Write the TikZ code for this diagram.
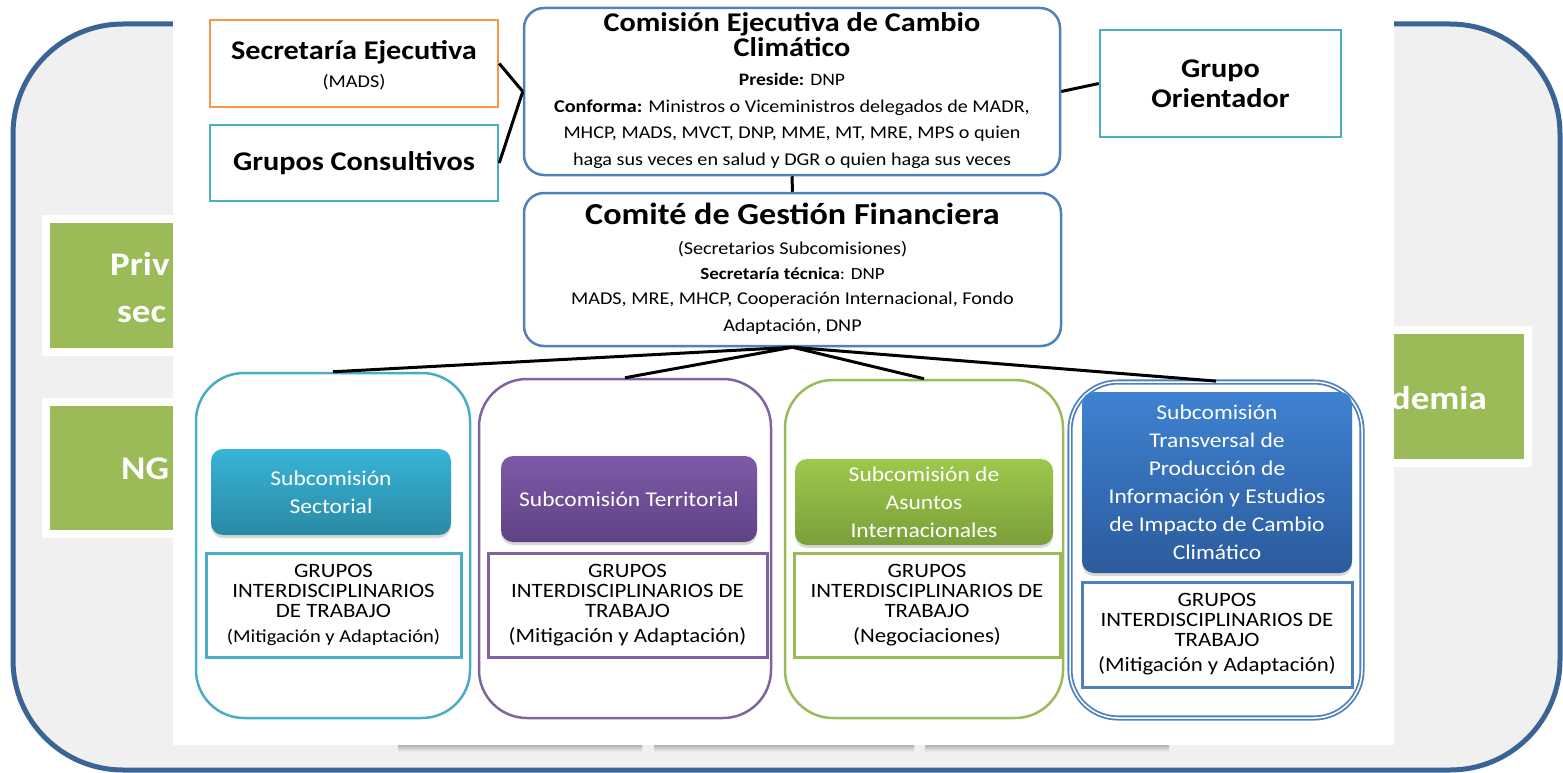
\documentclass[tikz,border=0pt]{standalone}
\usepackage{fontspec}
\setmainfont[FakeStretch=1.12]{Carlito}
\usetikzlibrary{shadows}

\definecolor{panelrim}{HTML}{3B6496}
\definecolor{panelgray}{HTML}{F0F0F0}
\definecolor{ccleaf}{HTML}{9BBB59}
\definecolor{ccteal}{HTML}{4BACC6}
\definecolor{ccpurple}{HTML}{8064A2}
\definecolor{ccgreen}{HTML}{9BBB59}
\definecolor{ccblue}{HTML}{4F81BD}
\definecolor{ccorange}{HTML}{F79646}
\definecolor{tealtop}{HTML}{37B4D8}
\definecolor{tealbot}{HTML}{2A8AA4}
\definecolor{purpletop}{HTML}{7E5AA8}
\definecolor{purplebot}{HTML}{5E4384}
\definecolor{greentop}{HTML}{9DC84B}
\definecolor{greenbot}{HTML}{7B9F3A}
\definecolor{bluetop}{HTML}{3F82D2}
\definecolor{bluebot}{HTML}{2B5B9C}

\newcommand\fsz[2]{\fontsize{#1}{#2}\selectfont}

\begin{document}
\begin{tikzpicture}
 [ x=1pt, y=-1pt
 , every node/.style={inner sep=0pt, align=center}
 , boxsize/.style 2 args={minimum width=#1pt, minimum height=#2pt}
 , plainbox/.style={draw=#1, line width=2.5pt, fill=white}
 , roundbox/.style={draw=#1, line width=2.5pt, fill=white, rounded corners=20pt}
 , groupbox/.style={draw=#1, line width=2.5pt, rounded corners=48pt}
 , headbox/.style 2 args={rounded corners=12pt, top color=#1, bottom color=#2, text=white, font=\fsz{21}{28},
     drop shadow={opacity=0.3, shadow xshift=0pt, shadow yshift=-3pt}}
 , workbox/.style={draw=#1, line width=3pt, fill=white, font=\fsz{20.4}{20}}
 , sidebox/.style={fill=ccleaf, draw=white, line width=8pt,
     drop shadow={opacity=0.35, shadow xshift=3pt, shadow yshift=-3pt}}
 , sidetext/.style={text=white, font=\fsz{33}{40}\bfseries}
 , title/.style={font=\fsz{#1}{#1}\bfseries, anchor=base}
 , line/.style={font=\fsz{18}{20}, anchor=base}
 , link/.style={line width=3pt}
 ]
  \useasboundingbox (0,0) rectangle (1563,773);
  \fill [white] (0,0) rectangle (1563,773);
  \draw [panelrim, line width=5pt, fill=panelgray, rounded corners=110pt] (13,24) rectangle (1560,770);

  % boxes behind the pasted chart
  \node [sidebox, boxsize={224}{133}] (private) at (158,285.5) {};
  \node [sidetext, anchor=base west] (private text) at (110,275) {Priv};
  \node [sidetext, anchor=base west] (private text2) at (117,322) {sec};
  \node [sidebox, boxsize={224}{132.5}] (ngo) at (158,468) {};
  \node [sidetext, anchor=base west] (ngo text) at (121,479) {NG};
  \node [sidebox, boxsize={278}{133}] (academia) at (1389,396) {};
  \node [sidetext, anchor=base east] (academia text) at (1487,409) {demia};
  \foreach \a/\b in {398/642, 654/914, 925/1169}
    \fill [top color=black!30, bottom color=panelgray] (\a,745) rectangle (\b,752);
  \fill [white] (173,0) rectangle (1394,745);

  % top level
  \node [plainbox=ccorange, boxsize={288}{87}] (secretaria) at (354,63.5) {};
  \node [title=27] (secretaria title) at (354,60) {Secretaría Ejecutiva};
  \node [font=\fsz{18}{18}, anchor=base] (secretaria mads) at (354,88) {(MADS)};
  \node [plainbox=ccteal, boxsize={288}{76}, font=\fsz{27}{30}\bfseries] (consultivos) at (354,163) {Grupos Consultivos};

  \node [roundbox=ccblue, boxsize={536}{167}] (comision) at (792,91.5) {};
  \node [title=27] (comision title) at (792,32) {Comisión Ejecutiva de Cambio};
  \node [title=27] (comision title2) at (792,57) {Climático};
  \node [line, font=\fsz{17.5}{20}] (comision preside) at (792,86) {\textbf{Preside:} DNP};
  \node [line] (comision conforma) at (792,113) {\textbf{Conforma:} Ministros o Viceministros delegados de MADR,};
  \node [line] (comision lista) at (792,139) {MHCP, MADS, MVCT, DNP, MME, MT, MRE, MPS o quien};
  \node [line] (comision salud) at (792,165) {haga sus veces en salud y DGR o quien haga sus veces};

  \node [plainbox=ccteal, boxsize={241}{107}, font=\fsz{27}{30}\bfseries] (orientador) at (1220.5,83.5) {Grupo\\Orientador};

  \node [roundbox=ccblue, boxsize={537}{153}] (comite) at (792.5,269.5) {};
  \node [title=30.5] (comite title) at (792.5,224) {Comité de Gestión Financiera};
  \node [line] (comite secretarios) at (792.5,254) {(Secretarios Subcomisiones)};
  \node [line, font=\fsz{17}{20}] (comite tecnica) at (792.5,279) {\textbf{Secretaría técnica}: DNP};
  \node [line] (comite miembros) at (792.5,304) {MADS, MRE, MHCP, Cooperación Internacional, Fondo};
  \node [line] (comite adaptacion) at (792.5,331) {Adaptación, DNP};

  \draw [link] (secretaria.east) -- (comision.west);
  \draw [link] (consultivos.east) -- (comision.west);
  \draw [link] (comision.east) -- (orientador.west);
  \draw [link] (comision.south) -- (comite.north);

  % subcomisiones
  \node [groupbox=ccteal, boxsize={274}{345}] (sectorial) at (333,545.5) {};
  \node [groupbox=ccpurple, boxsize={292}{339}] (territorial) at (625,548.5) {};
  \node [groupbox=ccgreen, boxsize={278}{338}] (asuntos) at (924,549) {};
  \node [groupbox=ccblue, double=white, double distance=1.5pt, line width=1.8pt, boxsize={292}{336}] (transversal) at (1216,550) {};

  \foreach \sub in {sectorial, territorial, asuntos, transversal}
    \draw [link] (comite.south) -- (\sub.north);

  \node [headbox={tealtop}{tealbot}, boxsize={240}{86}] (sectorial head) at (331,492) {Subcomisión\\Sectorial};
  \node [headbox={purpletop}{purplebot}, boxsize={256}{86}] (territorial head) at (629,499) {Subcomisión Territorial};
  \node [headbox={greentop}{greenbot}, boxsize={258}{86}] (asuntos head) at (924,502) {Subcomisión de\\Asuntos\\Internacionales};
  \node [headbox={bluetop}{bluebot}, boxsize={270}{181}] (transversal head) at (1217,482.5)
    {Subcomisión\\Transversal de\\Producción de\\Información y Estudios\\de Impacto de Cambio\\Climático};

  \node [workbox=ccteal, boxsize={255}{104}] (sectorial grupos) at (333.5,605)
    {GRUPOS\\INTERDISCIPLINARIOS\\DE TRABAJO\\[5pt]{\fsz{18.3}{20}(Mitigación y Adaptación)}};
  \node [workbox=ccpurple, boxsize={279}{104}] (territorial grupos) at (627.5,605)
    {GRUPOS\\INTERDISCIPLINARIOS DE\\TRABAJO\\[5pt](Mitigación y Adaptación)};
  \node [workbox=ccgreen, boxsize={266}{104}] (asuntos grupos) at (927,605)
    {GRUPOS\\INTERDISCIPLINARIOS DE\\TRABAJO\\[5pt](Negociaciones)};
  \node [workbox=ccblue, boxsize={270}{105}] (transversal grupos) at (1217,634.5)
    {GRUPOS\\INTERDISCIPLINARIOS DE\\TRABAJO\\[5pt](Mitigación y Adaptación)};
\end{tikzpicture}
\end{document}
